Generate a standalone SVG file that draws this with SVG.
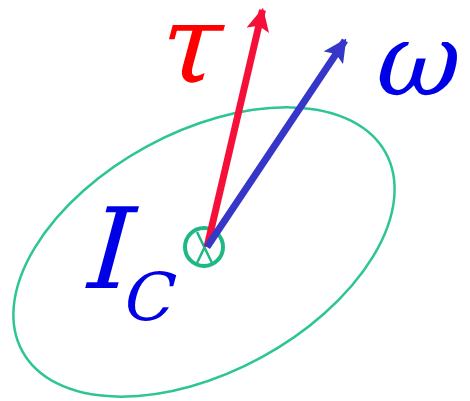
<svg xmlns="http://www.w3.org/2000/svg" width="470" height="401" viewBox="0 0 470 401">
<style>
.vec{stroke-width:7;fill:none;stroke-linecap:butt}
.lbl{font-family:'DejaVu Serif',serif}
</style>
<defs>
<marker id="ahR" viewBox="0 0 10 10" refX="9" refY="5" markerWidth="3.3" markerHeight="3.3" orient="auto" markerUnits="strokeWidth">
<path d="M0,0 L10,5 L0,10 L2,5 z" fill="#f5103a"/>
</marker>
<marker id="ahB" viewBox="0 0 10 10" refX="9" refY="5" markerWidth="3.3" markerHeight="3.3" orient="auto" markerUnits="strokeWidth">
<path d="M0,0 L10,5 L0,10 L2,5 z" fill="#3636c8"/>
</marker>
</defs>
<rect width="470" height="401" fill="#ffffff"/>
<g id="body">
<ellipse cx="204" cy="252" rx="207" ry="120" transform="rotate(-28.6 204 252)" fill="none" stroke="#2ec596" stroke-width="2.5"/>
</g>
<g id="center">
<circle cx="204" cy="247" r="19" fill="none" stroke="#1fb785" stroke-width="4"/>
<path d="M197,232 L212,263 M212,232 L197,263" stroke="#1fb785" stroke-width="2.5" fill="none"/>
</g>
<g id="connectors">
<line class="vec" x1="207" y1="247" x2="262.5" y2="10" stroke="#f5103a" marker-end="url(#ahR)"/>
<line class="vec" x1="207" y1="247" x2="345" y2="40.5" stroke="#3636c8" marker-end="url(#ahB)"/>
</g>
<g id="labels">
<text class="lbl" transform="translate(153 82) skewX(-15)" font-size="110" fill="#ff0000">τ</text>
<text class="lbl" transform="translate(370 95) skewX(-15)" font-size="102" fill="#0000e6">ω</text>
<text class="lbl" transform="translate(79 288) skewX(-15)" font-size="112" fill="#0000e6">I</text>
<text class="lbl" transform="translate(119 320) skewX(-15)" font-size="66" fill="#0000e6">C</text>
</g>
</svg>
